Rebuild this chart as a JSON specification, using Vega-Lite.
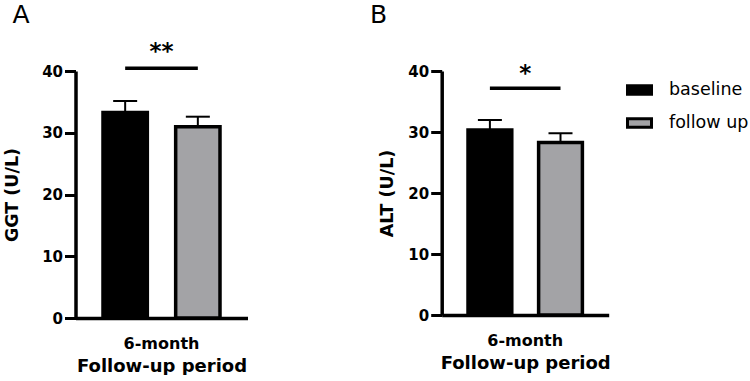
{
  "$schema": "https://vega.github.io/schema/vega-lite/v6.json",
  "background": "white",
  "padding": {"left": 3.5, "top": 2, "right": 0, "bottom": 0},
  "align": "each",
  "config": {
    "font": "DejaVu Sans",
    "view": {"stroke": null},
    "concat": {"spacing": 122.2},
    "axis": {
      "grid": false,
      "domainColor": "black",
      "domainWidth": 3.5,
      "tickColor": "black",
      "tickWidth": 3,
      "labelColor": "black",
      "labelFont": "DejaVu Sans",
      "labelFontWeight": "bold",
      "titleColor": "black",
      "titleFont": "DejaVu Sans",
      "titleFontWeight": "bold"
    },
    "title": {"font": "DejaVu Sans", "fontWeight": "normal", "fontSize": 25, "color": "black", "anchor": "start", "frame": "bounds"}
  },
  "datasets": {
    "ggt": [
      {"period": "6-month", "group": "baseline", "mean": 33.28, "upper": 35.14},
      {"period": "6-month", "group": "follow up", "mean": 30.97, "upper": 32.6}
    ],
    "alt": [
      {"period": "6-month", "group": "baseline", "mean": 30.33, "upper": 31.97},
      {"period": "6-month", "group": "follow up", "mean": 28.28, "upper": 29.79}
    ],
    "ggt_sig": [
      {"period": "6-month", "group": "baseline", "y": 40.44},
      {"period": "6-month", "group": "follow up", "y": 40.44}
    ],
    "alt_sig": [
      {"period": "6-month", "group": "baseline", "y": 37.16},
      {"period": "6-month", "group": "follow up", "y": 37.16}
    ],
    "ggt_star": [{"period": "6-month", "y": 42.0, "label": "**"}],
    "alt_star": [{"period": "6-month", "y": 38.4, "label": "*"}]
  },
  "resolve": {"scale": {"x": "independent", "y": "independent", "xOffset": "independent", "color": "shared"}, "legend": {"color": "shared"}},
  "hconcat": [
    {
      "width": 172,
      "height": 247,
      "title": {"text": "A", "dx": 9, "offset": 13},
      "layer": [
        {
          "data": {"name": "ggt"},
          "mark": {"type": "bar", "stroke": "black", "strokeWidth": 3.5},
          "encoding": {
            "x": {"field": "period", "type": "nominal", "scale": {"paddingInner": 0, "paddingOuter": 0.235},
              "axis": {"ticks": false, "tickSize": 0, "labelAngle": 0, "labelFontSize": 16, "labelPadding": 17, "titleFontSize": 18, "titlePadding": 6},
              "title": "Follow-up period"},
            "xOffset": {"field": "group", "type": "nominal", "scale": {"paddingInner": 0.39, "paddingOuter": 0}},
            "y": {"field": "mean", "type": "quantitative", "scale": {"domain": [0, 40]},
              "axis": {"values": [0, 10, 20, 30, 40], "tickSize": 11, "labelPadding": 2, "labelFontSize": 15, "titleFontSize": 17.5, "minExtent": 34, "maxExtent": 34, "titlePadding": 20},
              "title": "GGT (U/L)"},
            "color": {"field": "group", "type": "nominal", "scale": {"domain": ["baseline", "follow up"], "range": ["#000000", "#a3a3a6"]},
              "legend": {"title": null, "orient": "none", "legendX": 550.5, "legendY": 5.5, "symbolType": "M-1,-0.36L1,-0.36L1,0.36L-1,0.36Z", "symbolSize": 576, "symbolStrokeColor": "black", "symbolStrokeWidth": 3, "symbolOpacity": 1, "labelFontSize": 17.5, "labelFont": "DejaVu Sans", "labelColor": "black", "labelOffset": 16, "rowPadding": 9}}
          }
        },
        {
          "data": {"name": "ggt"},
          "mark": {"type": "rule", "color": "black", "strokeWidth": 2},
          "encoding": {
            "x": {"field": "period", "type": "nominal"},
            "xOffset": {"field": "group", "type": "nominal"},
            "y": {"field": "mean", "type": "quantitative"},
            "y2": {"field": "upper"}
          }
        },
        {
          "data": {"name": "ggt"},
          "mark": {"type": "tick", "orient": "horizontal", "color": "black", "size": 24, "thickness": 2, "opacity": 1},
          "encoding": {
            "x": {"field": "period", "type": "nominal"},
            "xOffset": {"field": "group", "type": "nominal"},
            "y": {"field": "upper", "type": "quantitative"}
          }
        },
        {
          "data": {"name": "ggt_sig"},
          "mark": {"type": "line", "color": "black", "strokeWidth": 3.5},
          "encoding": {
            "x": {"field": "period", "type": "nominal"},
            "xOffset": {"field": "group", "type": "nominal"},
            "y": {"field": "y", "type": "quantitative"}
          }
        },
        {
          "data": {"name": "ggt_star"},
          "mark": {"type": "text", "fontSize": 23, "fontWeight": "bold", "baseline": "alphabetic", "color": "black"},
          "encoding": {
            "x": {"field": "period", "type": "nominal"},
            "y": {"field": "y", "type": "quantitative"},
            "text": {"field": "label"}
          }
        }
      ]
    },
    {
      "width": 167,
      "height": 244,
      "title": {"text": "B", "dx": -8.3, "offset": 35},
      "layer": [
        {
          "data": {"name": "alt"},
          "mark": {"type": "bar", "stroke": "black", "strokeWidth": 3.5},
          "encoding": {
            "x": {"field": "period", "type": "nominal", "scale": {"paddingInner": 0, "paddingOuter": 0.23},
              "axis": {"ticks": false, "tickSize": 0, "labelAngle": 0, "labelFontSize": 16, "labelPadding": 17, "titleFontSize": 18, "titlePadding": 6},
              "title": "Follow-up period"},
            "xOffset": {"field": "group", "type": "nominal", "scale": {"paddingInner": 0.38, "paddingOuter": 0}},
            "y": {"field": "mean", "type": "quantitative", "scale": {"domain": [0, 40]},
              "axis": {"values": [0, 10, 20, 30, 40], "tickSize": 11, "labelPadding": 2, "labelFontSize": 15, "titleFontSize": 17.5, "minExtent": 34, "maxExtent": 34, "titlePadding": 11.5},
              "title": "ALT (U/L)"},
            "color": {"field": "group", "type": "nominal"}
          }
        },
        {
          "data": {"name": "alt"},
          "mark": {"type": "rule", "color": "black", "strokeWidth": 2},
          "encoding": {
            "x": {"field": "period", "type": "nominal"},
            "xOffset": {"field": "group", "type": "nominal"},
            "y": {"field": "mean", "type": "quantitative"},
            "y2": {"field": "upper"}
          }
        },
        {
          "data": {"name": "alt"},
          "mark": {"type": "tick", "orient": "horizontal", "color": "black", "size": 24, "thickness": 2, "opacity": 1},
          "encoding": {
            "x": {"field": "period", "type": "nominal"},
            "xOffset": {"field": "group", "type": "nominal"},
            "y": {"field": "upper", "type": "quantitative"}
          }
        },
        {
          "data": {"name": "alt_sig"},
          "mark": {"type": "line", "color": "black", "strokeWidth": 3.5},
          "encoding": {
            "x": {"field": "period", "type": "nominal"},
            "xOffset": {"field": "group", "type": "nominal"},
            "y": {"field": "y", "type": "quantitative"}
          }
        },
        {
          "data": {"name": "alt_star"},
          "mark": {"type": "text", "fontSize": 23, "fontWeight": "bold", "baseline": "alphabetic", "color": "black"},
          "encoding": {
            "x": {"field": "period", "type": "nominal"},
            "y": {"field": "y", "type": "quantitative"},
            "text": {"field": "label"}
          }
        }
      ]
    }
  ]
}
